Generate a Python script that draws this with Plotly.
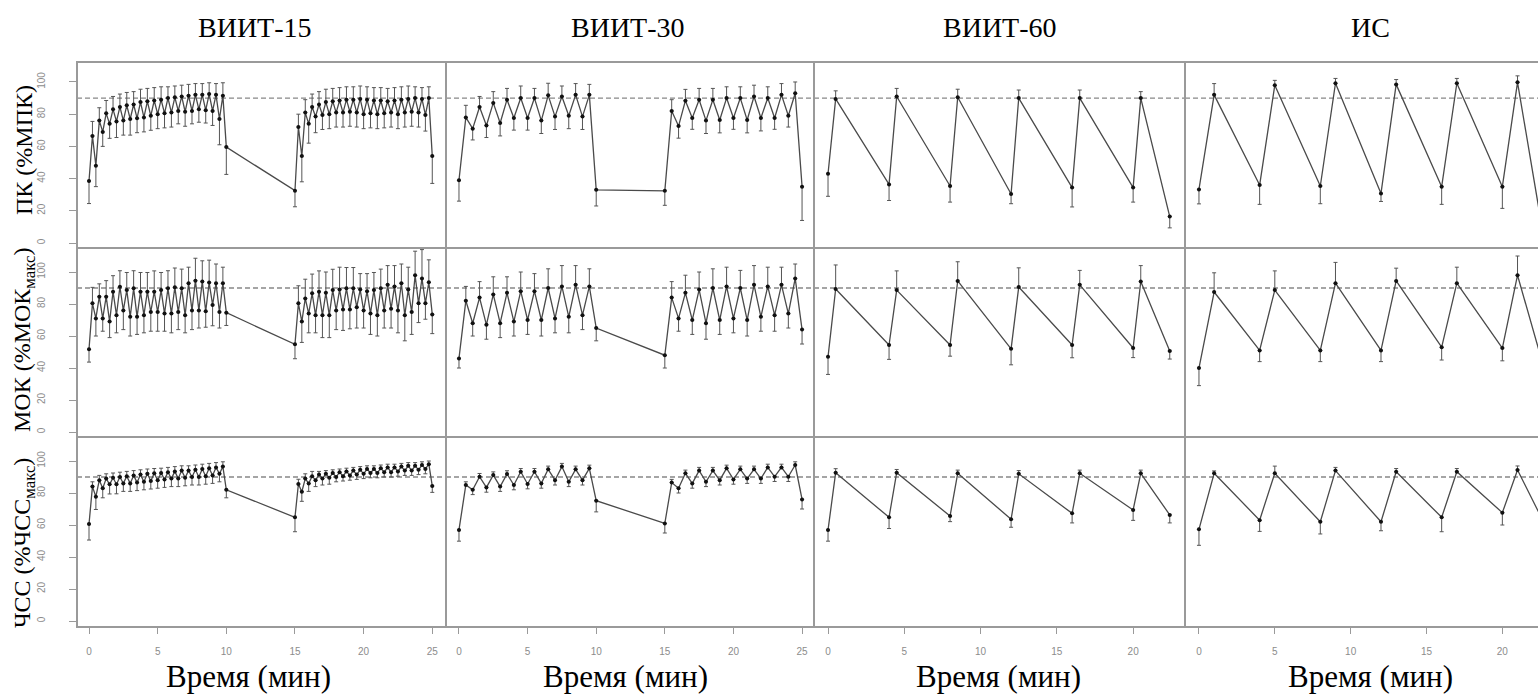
import plotly.graph_objects as go

# ---------------- Data ----------------
COLUMN_TITLES = ["ВИИТ-15", "ВИИТ-30", "ВИИТ-60", "ИС"]
ROW_TITLES = ["ПК (%МПК)", "МОК (%МОК<sub>макс</sub>)", "ЧСС (%ЧСС<sub>макс</sub>)"]
X_TITLE = "Время (мин)"
Y_TICKS = [0, 20, 40, 60, 80, 100]
X_TICKS_25 = [0, 5, 10, 15, 20, 25]
X_TICKS_20 = [0, 5, 10, 15, 20]
REF_LEVEL = 90

# ВИИТ-15 (time in minutes)
T15 = [0, 0.25, 0.5, 0.75, 1, 1.25, 1.5, 1.75, 2, 2.25, 2.5, 2.75, 3, 3.25, 3.5, 3.75,
       4, 4.25, 4.5, 4.75, 5, 5.25, 5.5, 5.75, 6, 6.25, 6.5, 6.75, 7, 7.25, 7.5, 7.75,
       8, 8.25, 8.5, 8.75, 9, 9.25, 9.5, 9.75, 10,
       15, 15.25, 15.5, 15.75, 16, 16.25, 16.5, 16.75, 17, 17.25, 17.5, 17.75, 18, 18.25,
       18.5, 18.75, 19, 19.25, 19.5, 19.75, 20, 20.25, 20.5, 20.75, 21, 21.25, 21.5, 21.75,
       22, 22.25, 22.5, 22.75, 23, 23.25, 23.5, 23.75, 24, 24.25, 24.5, 24.75, 25]
PK15 = [38.5, 66.5, 48, 76, 69, 80.5, 74, 83, 75.5, 84.5, 76, 85.5, 77, 86, 77.5, 87.5,
        78, 88, 79, 88.5, 80, 89, 80.5, 90, 81, 90.5, 82, 91, 81.5, 91.5, 82, 92,
        83, 92, 82.5, 92.5, 82, 92, 77, 91.5, 59.6,
        32.5, 72, 54, 81, 74, 84.5, 78.5, 86, 79.5, 87.5, 80, 88, 81, 88.5,
        81, 89, 81.5, 89, 81, 89.5, 80, 89, 80.5, 88.5, 80, 88.5, 80.5, 88,
        81, 88.5, 80, 89, 81, 89.5, 81.5, 90, 81, 89.5, 79.5, 90, 54]
PK15_ERR = [-14, 9, -13, 8, -9, 8, -9, 8, -10, 8, -9, 8, -10, 8, -9, 8,
            -9, 8, -9, 8, -9, 8, -9, 7, -9, 7, -8, 7, -9, 7, -8, 7,
            -8, 7, -8, 7, -9, 7, -16, 8, -17,
            -10, 8, -16, 8, -12, 8, -10, 8, -9, 8, -9, 8, -9, 8,
            -9, 8, -9, 8, -9, 8, -9, 8, -9, 8, -9, 8, -9, 8,
            -9, 8, -9, 8, -9, 8, -9, 7, -9, 7, -10, 7, -17]
MOK15 = [51.7, 80.4, 71, 84.6, 71, 84.6, 69, 87.7, 73, 90.8, 76, 88.7, 72, 89.8, 72, 87.7,
         73, 87.7, 75, 87.7, 75, 88.7, 74, 89.8, 74, 90.5, 75, 89.8, 73, 93, 76, 94.6,
         76, 94, 75.5, 93.4, 79.4, 93, 75, 93, 74.6,
         54.8, 80.4, 69, 83.5, 74, 86.7, 73, 87.7, 73, 87, 73, 88.7, 76, 89,
         76.5, 89.8, 76.5, 89.8, 78, 89, 76, 88, 74, 88.7, 73, 89.8, 76, 92,
         77, 91, 76, 93, 73, 89, 75, 98, 80.4, 96, 80.5, 93.6, 73.5]
MOK15_ERR = [-8, 10, -11, 8, -8, 10, -10, 10, -11, 10, -12, 11, -12, 11, -11, 12,
             -11, 12, -12, 13, -12, 11, -11, 11, -12, 12, -11, 12, -11, 10, -12, 14,
             -11, 13, -10, 14, -13, 12, -10, 10, -8,
             -9, 11, -13, 12, -12, 12, -11, 13, -14, 13, -14, 13, -12, 14,
             -13, 13, -12, 13, -13, 10, -11, 11, -13, 11, -13, 12, -11, 12,
             -12, 13, -14, 12, -16, 14, -14, 15, -12, 18, -10, 14, -12]
HR15 = [60.6, 84, 77.7, 88, 83, 89, 85.4, 89.5, 85.5, 90, 86, 90.5, 86, 91, 86.5, 91.5,
        87, 92, 87.5, 92.3, 88, 92.5, 88.5, 93, 89, 93.5, 89, 94, 89.5, 94, 90, 94.5,
        90, 95, 90.5, 95.5, 91, 96, 92, 96.5, 82,
        64.8, 85.6, 80.8, 89, 86, 90.5, 88, 91.5, 89, 92, 89.5, 92.5, 90, 93,
        90.5, 93.5, 91, 94, 91.5, 94.5, 92, 95, 92.5, 95, 92.5, 95.5, 93, 96,
        93, 96, 93.5, 96.5, 94, 97, 94, 97, 94.5, 97.5, 95, 98, 84.4]
HR15_ERR = [-10, 3, -8, 3, -6, 3, -6, 3, -6, 3, -5, 3, -5, 3, -5, 3,
            -5, 3, -5, 3, -5, 3, -5, 3, -5, 3, -5, 3, -5, 3, -5, 3,
            -5, 3, -5, 3, -5, 3, -5, 3, -5,
            -9, 3, -6, 3, -5, 3, -4, 2, -4, 2, -4, 2, -3, 2,
            -3, 2, -3, 2, -3, 2, -3, 2, -3, 2, -3, 2, -3, 2,
            -3, 2, -3, 2, -3, 2, -3, 2, -3, 2, -3, 2, -4]

# ВИИТ-30
T30 = [0, 0.5, 1, 1.5, 2, 2.5, 3, 3.5, 4, 4.5, 5, 5.5, 6, 6.5, 7, 7.5, 8, 8.5, 9, 9.5, 10,
       15, 15.5, 16, 16.5, 17, 17.5, 18, 18.5, 19, 19.5, 20, 20.5, 21, 21.5, 22, 22.5,
       23, 23.5, 24, 24.5, 25]
PK30 = [39, 78, 71, 84.5, 73, 87, 74.5, 89, 77.6, 90, 77.6, 90, 76, 91.7, 78.5, 91,
        79, 92, 78.5, 92, 33,
        32.4, 82, 72.6, 88.4, 77.6, 89, 76, 89, 76.4, 90, 77.6, 90, 76.4, 91, 77.6, 90,
        77.6, 92, 79, 93, 35]
PK30_ERR = [-13, 7.5, -7, 6.5, -7.5, 7, -8, 7, -7.5, 7.5, -7.5, 6, -8, 7.5, -8, 6.5,
            -8, 7, -8, 6.5, -10,
            -9, 7, -7.5, 7, -7, 7, -8, 7, -8, 7, -7, 7, -8, 7, -8, 7,
            -7, 7, -7, 7, -21]
MOK30 = [46, 82, 68, 84, 67, 86, 68, 87, 69, 88, 70, 88, 70, 90, 71, 91,
         72, 92, 73, 91, 65,
         48, 84, 71, 87, 70, 89, 68, 90, 70, 91, 71, 90, 70, 92, 72, 91,
         73, 92, 74, 96, 64]
MOK30_ERR = [-6, 9, -8, 10, -9, 11, -9, 10, -9, 12, -9, 11, -10, 12, -9, 13,
             -10, 12, -9, 11, -8,
             -8, 10, -8, 11, -9, 11, -10, 12, -9, 12, -9, 11, -10, 12, -9, 12,
             -10, 11, -9, 9, -9]
HR30 = [56.9, 85, 82, 90.2, 83.5, 91.2, 84, 91.9, 85, 93.3, 85.6, 93.3, 86, 94.8, 88, 96.5,
        87, 94.8, 88, 95.4, 75.2,
        61, 86.5, 83, 92.3, 86, 94, 87, 94, 88, 95.4, 88.5, 94.8, 89, 94.8, 89, 96,
        90.2, 96, 90.2, 97.5, 76]
HR30_ERR = [-7, 2, -3, 2, -3, 2, -3, 2, -3, 2, -3, 2, -3, 2, -3, 2,
            -3, 2, -3, 2, -7,
            -6, 2, -3, 2, -3, 2, -3, 2, -3, 2, -3, 2, -3, 2, -3, 2,
            -3, 2, -3, 2, -6]

# ВИИТ-60
T60 = [0, 0.5, 4, 4.5, 8, 8.5, 12, 12.5, 16, 16.5, 20, 20.5, 22.4]
PK60 = [43, 89.5, 36.4, 91, 35.4, 90.5, 30.4, 90, 34.4, 90, 34.4, 90, 16.4]
PK60_ERR = [-14, 5, -10, 5, -10, 5, -6, 5, -12, 5, -9, 4, -7]
MOK60 = [47, 89.4, 54.4, 88.7, 54.4, 94.4, 52, 90.6, 54.4, 92, 52.5, 94, 50.6]
MOK60_ERR = [-11, 15, -9, 12, -7, 12, -10, 12, -8, 9, -6, 10, -5]
HR60 = [56.9, 92.7, 64.8, 92.7, 65.6, 92.3, 63.6, 92, 67.3, 92.3, 69.4, 92.3, 66.3]
HR60_ERR = [-7, 2.5, -7, 2, -3.5, 2, -5, 2, -6, 2, -6.5, 2, -5]

# ИС
TIS = [0, 1, 4, 5, 8, 9, 12, 13, 16, 17, 20, 21, 22.5]
PKIS = [33.3, 92, 36, 98, 35.4, 99.2, 30.8, 98.5, 35, 99.2, 35, 99.8, 16]
PKIS_ERR = [-9, 7, -12, 3, -11, 3, -5, 3, -11, 3, -13.5, 4, -7]
MOKIS = [40, 87.5, 51, 88.7, 51, 93, 51, 94.4, 53, 93, 52.5, 98, 48]
MOKIS_ERR = [-11, 12, -7, 12, -7, 13, -7, 8, -8, 10, -8, 12, -6]
HRIS = [57.3, 92.3, 63, 92.3, 62, 94, 62, 93.3, 64.8, 93.3, 67.7, 94.4, 66]
HRIS_ERR = [-10, 1.5, -7, 4.5, -7.6, 2, -5.6, 2, -9, 2, -7.7, 2.5, -5]

COLUMNS = [
    (T15, [(PK15, PK15_ERR), (MOK15, MOK15_ERR), (HR15, HR15_ERR)]),
    (T30, [(PK30, PK30_ERR), (MOK30, MOK30_ERR), (HR30, HR30_ERR)]),
    (T60, [(PK60, PK60_ERR), (MOK60, MOK60_ERR), (HR60, HR60_ERR)]),
    (TIS, [(PKIS, PKIS_ERR), (MOKIS, MOKIS_ERR), (HRIS, HRIS_ERR)]),
]

# ---------------- Layout geometry (pixels) ----------------
W, H = 1538, 694
X_EDGES = [77, 446, 814, 1185, 1538]
Y_EDGES = [62, 248, 437, 627]
X_RANGES = [[-0.875, 26.0], [-0.945, 25.87], [-0.92, 23.4], [-0.92, 22.35]]
Y_RANGES = [[-3.1, 112.4], [-3.1, 115.0], [-3.75, 115.0]]
COL_TITLE_X = [255, 628, 1000, 1370]
XTITLE_X = [248, 625, 998, 1370]
ROW_TITLE_Y = [150, 340, 543]

SERIF = "Liberation Serif"
LINE_C = "#4a4a4a"
FRAME_C = "#9a9a9a"
TICK_C = "#9a9a9a"


def px(x):
    return x / W


def py(y):
    return 1 - y / H


fig = go.Figure()
layout = {}
shapes = []

for c, (t, rows) in enumerate(COLUMNS):
    for r, (vals, errs) in enumerate(rows):
        k = r * 4 + c + 1
        xa = "xaxis" if k == 1 else f"xaxis{k}"
        ya = "yaxis" if k == 1 else f"yaxis{k}"
        xref = "x" if k == 1 else f"x{k}"
        yref = "y" if k == 1 else f"y{k}"
        fig.add_trace(go.Scatter(
            x=t, y=vals, xaxis=xref, yaxis=yref, mode="lines+markers",
            line=dict(color=LINE_C, width=1.3),
            marker=dict(color="#111111", size=4),
            error_y=dict(type="data", symmetric=False,
                         array=[max(e, 0) for e in errs],
                         arrayminus=[max(-e, 0) for e in errs],
                         color="#555555", thickness=1, width=2),
            showlegend=False, hoverinfo="skip", cliponaxis=True,
        ))
        bottom = (r == 2)
        left = (c == 0)
        layout[xa] = dict(
            domain=[px(X_EDGES[c]), px(X_EDGES[c + 1])],
            range=X_RANGES[c], anchor=yref, showgrid=False, zeroline=False,
            showline=False,
            tickmode="array", tickvals=(X_TICKS_25 if c < 2 else X_TICKS_20) if bottom else [],
            ticks="outside" if bottom else "", ticklen=6, tickcolor=TICK_C, tickwidth=1,
            showticklabels=bottom, ticklabelstandoff=9,
            tickfont=dict(size=10, color="#8c8c8c", family="Arial"),
        )
        layout[ya] = dict(
            domain=[py(Y_EDGES[r + 1]), py(Y_EDGES[r])],
            range=Y_RANGES[r], anchor=xref, showgrid=False, zeroline=False,
            showline=False,
            tickmode="array", tickvals=Y_TICKS if left else [],
            ticks="outside" if left else "", ticklen=7, tickcolor=TICK_C, tickwidth=1,
            showticklabels=left, tickangle=-90, ticklabelstandoff=20,
            tickfont=dict(size=10, color="#8c8c8c", family="Arial"),
        )
        shapes.append(dict(type="line", xref=f"{xref} domain", yref=yref,
                           x0=0, x1=1, y0=REF_LEVEL, y1=REF_LEVEL,
                           line=dict(color="#888888", width=1.3, dash="5px,3px"),
                           layer="below"))

# panel frame lines
for yy in Y_EDGES:
    shapes.append(dict(type="line", xref="paper", yref="paper",
                       x0=px(X_EDGES[0] - 1), x1=1, y0=py(yy), y1=py(yy),
                       line=dict(color=FRAME_C, width=2)))
for xx in X_EDGES[:-1]:
    shapes.append(dict(type="line", xref="paper", yref="paper",
                       x0=px(xx), x1=px(xx), y0=py(Y_EDGES[0]), y1=py(Y_EDGES[-1]),
                       line=dict(color=FRAME_C, width=2)))

annotations = []
for c, title in enumerate(COLUMN_TITLES):
    annotations.append(dict(text=title, x=px(COL_TITLE_X[c]), y=py(27), xref="paper", yref="paper",
                            showarrow=False, xanchor="center", yanchor="middle",
                            font=dict(family=SERIF, size=28, color="#000000")))
    annotations.append(dict(text=X_TITLE, x=px(XTITLE_X[c]), y=py(676), xref="paper", yref="paper",
                            showarrow=False, xanchor="center", yanchor="middle",
                            font=dict(family=SERIF, size=31, color="#000000")))
for r, title in enumerate(ROW_TITLES):
    annotations.append(dict(text=title, x=px(24), y=py(ROW_TITLE_Y[r]), xref="paper", yref="paper",
                            showarrow=False, xanchor="center", yanchor="middle", textangle=-90,
                            font=dict(family=SERIF, size=24, color="#000000")))

fig.update_layout(
    width=W, height=H, margin=dict(l=0, r=0, t=0, b=0),
    paper_bgcolor="white", plot_bgcolor="white",
    shapes=shapes, annotations=annotations, showlegend=False,
    hovermode=False, **layout,
)

fig.write_html("out.html", config={"displayModeBar": False})
